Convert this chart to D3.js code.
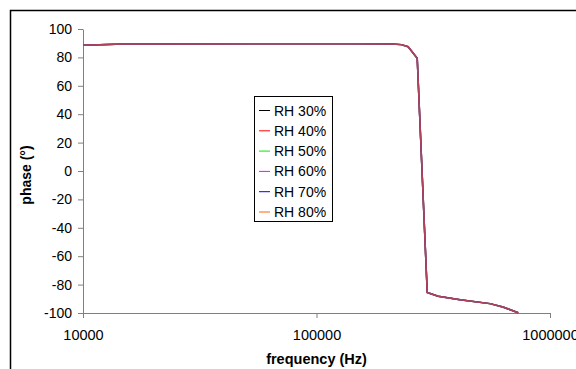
<!DOCTYPE html>
<html>
<head>
<meta charset="utf-8">
<script src="https://cdn.jsdelivr.net/npm/d3@7"></script>
<style>
  html, body { margin: 0; padding: 0; background: #fff; }
  svg { display: block; font-family: "Liberation Sans", Arial, sans-serif; }
</style>
</head>
<body>
<svg id="chart" width="576" height="369"></svg>
<script>
// Frequency sweep (Hz) shared by every humidity series
const frequency = [10000, 15000, 20000, 50000, 100000, 150000, 210000, 231000, 247000, 270000, 298000, 332000, 412000, 553000, 629000, 731000];

// Phase (degrees) for each relative humidity level
const rh30 = [88.6, 89.4, 89.5, 89.6, 89.6, 89.6, 89.4, 89.0, 87.5, 79.4, -85.6, -88.2, -90.6, -93.4, -95.8, -99.8];
const rh40 = [88.6, 89.4, 89.5, 89.6, 89.6, 89.6, 89.4, 89.0, 87.4, 79.3, -85.7, -88.2, -90.6, -93.4, -95.9, -99.8];
const rh50 = [88.6, 89.4, 89.5, 89.6, 89.6, 89.6, 89.4, 88.9, 87.3, 79.2, -85.6, -88.3, -90.7, -93.5, -95.8, -99.8];
const rh60 = [88.6, 89.4, 89.5, 89.6, 89.6, 89.6, 89.4, 89.0, 87.5, 79.4, -85.6, -88.2, -90.6, -93.4, -95.8, -99.8];
const rh70 = [88.6, 89.4, 89.5, 89.6, 89.6, 89.6, 89.4, 89.0, 87.4, 79.3, -85.6, -88.2, -90.6, -93.4, -95.8, -99.8];
const rh80 = [88.6, 89.4, 89.5, 89.6, 89.6, 89.6, 89.4, 89.0, 87.5, 79.4, -85.6, -88.2, -90.6, -93.4, -95.8, -99.8];

const seriesNames = ["RH 30%", "RH 40%", "RH 50%", "RH 60%", "RH 70%", "RH 80%"];
const seriesValues = [rh30, rh40, rh50, rh60, rh70, rh80];
const seriesColors = ["#000000", "#ff0000", "#00ee00", "#ff00ff", "#0000ff", "#ff6600"];

const xTicks = [10000, 100000, 1000000];
const yTicks = [-100, -80, -60, -40, -20, 0, 20, 40, 60, 80, 100];

const svg = d3.select("#chart");
const fontFamily = "'Liberation Sans', Arial, sans-serif";

// outer chart frame (runs off the right and bottom edges)
svg.append("rect")
  .attr("x", 10.5).attr("y", 10.5)
  .attr("width", 600).attr("height", 400)
  .attr("fill", "none").attr("stroke", "#000").attr("stroke-width", 1.5);

const plot = { left: 83, right: 550, top: 29, bottom: 313 };

const x = d3.scaleLog().domain([10000, 1000000]).range([plot.left, plot.right]);
const y = d3.scaleLinear().domain([-100, 100]).range([plot.bottom, plot.top]);

// y axis
const yAxis = svg.append("g")
  .attr("transform", `translate(${plot.left},0)`)
  .call(d3.axisLeft(y).tickValues(yTicks).tickSize(5).tickSizeOuter(0).tickPadding(6).tickFormat(d => String(d)));
yAxis.select(".domain").attr("stroke", "#808080").attr("stroke-width", 1);
yAxis.selectAll(".tick line").attr("stroke", "#808080");
yAxis.selectAll(".tick text").attr("fill", "#000").attr("font-size", 14)
  .style("font-family", fontFamily);

// x axis
const xAxis = svg.append("g")
  .attr("transform", `translate(0,${plot.bottom})`)
  .call(d3.axisBottom(x).tickValues(xTicks).tickSize(5).tickSizeOuter(0).tickPadding(12).tickFormat(d => String(d)));
xAxis.select(".domain").attr("stroke", "#808080").attr("stroke-width", 1);
xAxis.selectAll(".tick line").attr("stroke", "#808080");
xAxis.selectAll(".tick text").attr("fill", "#000").attr("font-size", 14.5)
  .style("font-family", fontFamily);

// axis titles
svg.append("text")
  .attr("x", 316.5).attr("y", 364)
  .attr("text-anchor", "middle").attr("font-size", 14.5).attr("font-weight", "bold")
  .text("frequency (Hz)");

svg.append("text")
  .attr("transform", `translate(30.5,175) rotate(-90)`)
  .attr("text-anchor", "middle").attr("font-size", 14).attr("font-weight", "bold")
  .text("phase (°)");

// series lines
const line = d3.line()
  .x((d, i) => x(frequency[i]))
  .y(d => y(d));

seriesValues.forEach((vals, k) => {
  svg.append("path")
    .datum(vals)
    .attr("d", line)
    .attr("fill", "none")
    .attr("stroke", seriesColors[k])
    .attr("stroke-width", 1.5)
    .attr("stroke-opacity", k === 0 ? 1 : 0.55);
});

// legend
const legend = svg.append("g");
legend.append("rect")
  .attr("x", 254.5).attr("y", 96.5)
  .attr("width", 78).attr("height", 125)
  .attr("fill", "#fff").attr("stroke", "#000").attr("stroke-width", 1);

seriesNames.forEach((name, k) => {
  const cy = 110.5 + k * 20.3;
  legend.append("line")
    .attr("x1", 259).attr("x2", 270)
    .attr("y1", cy).attr("y2", cy)
    .attr("stroke", seriesColors[k]).attr("stroke-width", 1);
  legend.append("text")
    .attr("x", 274).attr("y", cy + 5)
    .attr("font-size", 14)
    .text(name);
});
</script>
</body>
</html>
